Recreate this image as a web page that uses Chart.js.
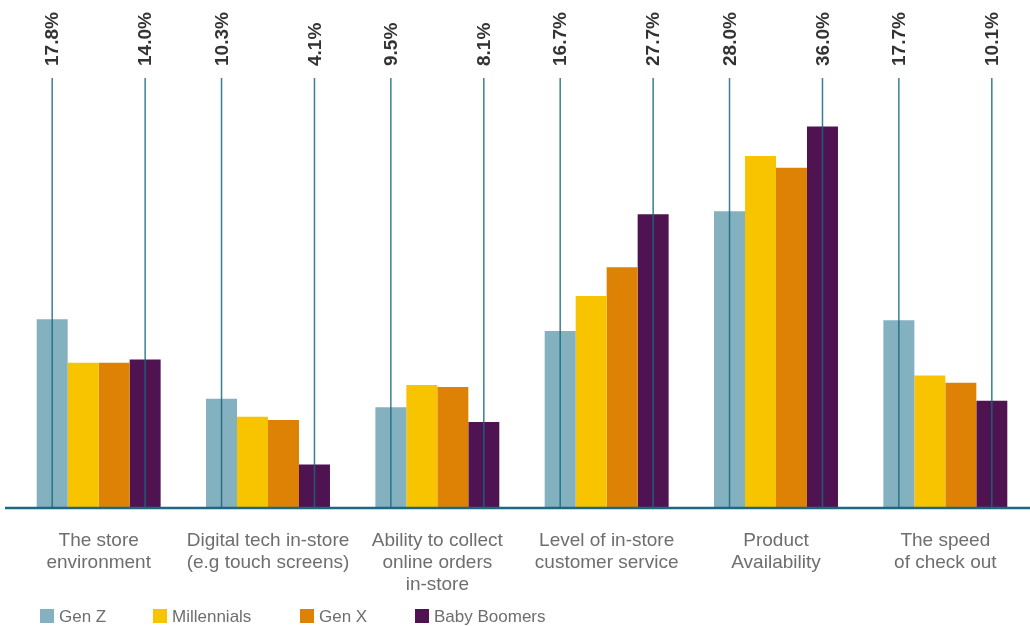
<!DOCTYPE html>
<html>
<head>
<meta charset="utf-8">
<script src="https://cdn.jsdelivr.net/npm/chart.js@4.4.0/dist/chart.umd.min.js"></script>
<style>
    body { margin: 0; background: #fff; }
</style>
</head>
<body>
<canvas id="chartDrivers" width="1030" height="626"></canvas>
<script>
const categories = [
    ['The store', 'environment'],
    ['Digital tech in-store', '(e.g touch screens)'],
    ['Ability to collect', 'online orders', 'in-store'],
    ['Level of in-store', 'customer service'],
    ['Product', 'Availability'],
    ['The speed', 'of check out']
];
const genZ = [17.8, 10.3, 9.5, 16.7, 28.0, 17.7];
const millennials = [13.7, 8.6, 11.6, 20.0, 33.2, 12.5];
const genX = [13.7, 8.3, 11.4, 22.7, 32.1, 11.8];
const babyBoomers = [14.0, 4.1, 8.1, 27.7, 36.0, 10.1];

const FONT = '"Liberation Sans", Arial, Helvetica, sans-serif';

// baseline, leader lines with value labels, and legend
const decorations = {
    id: 'decorations',
    afterDatasetsDraw(chart) {
        const ctx = chart.ctx;
        const area = chart.chartArea;
        const y0 = chart.scales.y.getPixelForValue(0);

        ctx.save();
        // leader lines for Gen Z and Baby Boomers
        [0, 3].forEach(di => {
            const meta = chart.getDatasetMeta(di);
            const values = chart.data.datasets[di].data;
            meta.data.forEach((bar, i) => {
                ctx.strokeStyle = 'rgba(22,104,126,0.85)';
                ctx.lineWidth = 1.5;
                ctx.beginPath();
                ctx.moveTo(bar.x, y0);
                ctx.lineTo(bar.x, area.top - 6);
                ctx.stroke();

                ctx.save();
                ctx.translate(bar.x + 1, area.top - 18);
                ctx.rotate(-Math.PI / 2);
                ctx.fillStyle = '#333333';
                ctx.font = 'bold 19px ' + FONT;
                ctx.textAlign = 'left';
                ctx.textBaseline = 'middle';
                ctx.fillText(values[i].toFixed(1) + '%', 0, 0);
                ctx.restore();
            });
        });

        // baseline
        ctx.strokeStyle = '#1b6a82';
        ctx.lineWidth = 2.5;
        ctx.beginPath();
        ctx.moveTo(5, y0);
        ctx.lineTo(chart.width, y0);
        ctx.stroke();

        // legend
        const legendX = [40, 153, 300, 415];
        const ly = 616;
        chart.data.datasets.forEach((ds, i) => {
            ctx.fillStyle = ds.backgroundColor;
            ctx.fillRect(legendX[i], ly - 7, 14, 14);
            ctx.fillStyle = '#6d6e71';
            ctx.font = '17px ' + FONT;
            ctx.textAlign = 'left';
            ctx.textBaseline = 'middle';
            ctx.fillText(ds.label, legendX[i] + 19, ly + 1);
        });
        ctx.restore();
    }
};

const ctx = document.getElementById('chartDrivers').getContext('2d');
const myChart = new Chart(ctx, {
    type: 'bar',
    data: {
        labels: categories,
        datasets: [
            { label: 'Gen Z', data: genZ, backgroundColor: '#84b1bf' },
            { label: 'Millennials', data: millennials, backgroundColor: '#f8c400' },
            { label: 'Gen X', data: genX, backgroundColor: '#de8205' },
            { label: 'Baby Boomers', data: babyBoomers, backgroundColor: '#4f1352' }
        ]
    },
    options: {
        responsive: false,
        animation: false,
        layout: {
            padding: { left: 14, right: 0, top: 84, bottom: 8 }
        },
        datasets: {
            bar: {
                barPercentage: 1,
                categoryPercentage: 0.732,
                borderWidth: 0
            }
        },
        plugins: {
            legend: { display: false },
            tooltip: { enabled: false }
        },
        scales: {
            x: {
                grid: { display: false, drawTicks: false },
                border: { display: false },
                ticks: {
                    padding: 22,
                    maxRotation: 0,
                    autoSkip: false,
                    color: '#6d6e71',
                    font: { family: FONT, size: 19, lineHeight: 1.16 }
                }
            },
            y: {
                display: false,
                min: 0,
                max: 40
            }
        }
    },
    plugins: [decorations]
});
</script>
</body>
</html>
